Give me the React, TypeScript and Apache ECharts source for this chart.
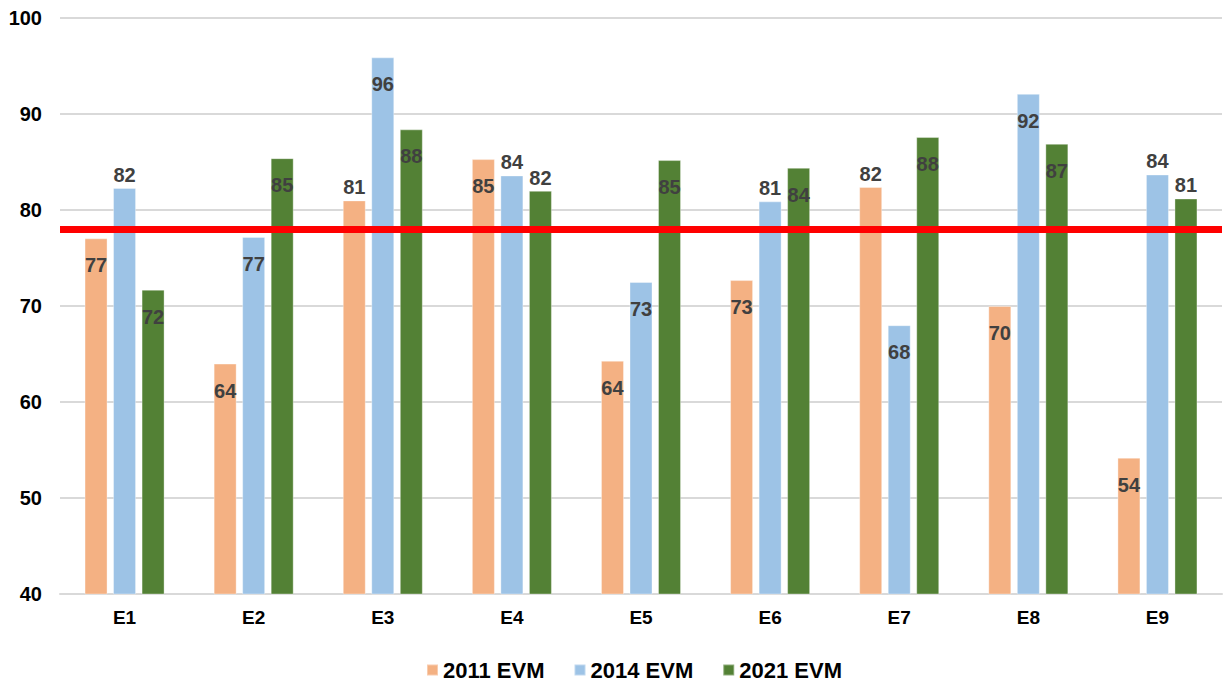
import React, { useEffect, useRef } from "react";
import * as echarts from "echarts";

const categories = ["E1", "E2", "E3", "E4", "E5", "E6", "E7", "E8", "E9"];
const seriesNames = ["2011 EVM", "2014 EVM", "2021 EVM"];
const evm2011 = [77.05, 64.0, 81.0, 85.3, 64.3, 72.7, 82.4, 70.0, 54.2];
const evm2014 = [82.3, 77.2, 95.9, 83.6, 72.5, 80.9, 68.0, 92.1, 83.7];
const evm2021 = [71.7, 85.4, 88.4, 82.0, 85.2, 84.4, 87.6, 86.9, 81.2];
// where each data label sits: "in" = inside the bar top, "top" = above the bar
const place2011 = ["in", "in", "top", "in", "in", "in", "top", "in", "in"];
const place2014 = ["top", "in", "in", "top", "in", "top", "in", "in", "top"];
const place2021 = ["in", "in", "in", "top", "in", "in", "in", "in", "top"];
const threshold = 78;
const yTicks = { min: 40, max: 100, interval: 10 };

const colors = ["#F4B183", "#9DC3E6", "#538135"];
const FONT = "'Liberation Sans', Arial, sans-serif";

function buildData(values: number[], places: string[]) {
  return values.map((v, i) => ({
    value: v,
    label:
      places[i] === "top"
        ? { position: "top", distance: 3 }
        : { position: "insideTop", distance: 17 },
  }));
}

export default function App() {
  const ref = useRef<HTMLDivElement>(null);
  useEffect(() => {
    document.body.style.margin = "0";
    if (!ref.current) return;
    const chart = echarts.init(ref.current, null, { renderer: "svg" });
    const labelBase = {
      show: true,
      color: "#404040",
      fontWeight: "bold",
      fontSize: 20,
      fontFamily: FONT,
      formatter: (p: any) => String(Math.round(p.value)),
    };
    const mk = (name: string, values: number[], places: string[], color: string, extra: any = {}) => ({
      name,
      type: "bar",
      data: buildData(values, places),
      barWidth: 23,
      barGap: "24%",
      itemStyle: { color, borderColor: "rgba(255,255,255,0.35)", borderWidth: 1 },
      label: labelBase,
      ...extra,
    });
    chart.setOption({
      animation: false,
      color: colors,
      grid: { left: 60, right: 2, top: 18, bottom: 90 },
      legend: {
        top: 654,
        left: 421,
        itemWidth: 11,
        itemHeight: 11,
        itemGap: 29,
        icon: "rect",
        textStyle: { fontSize: 22, fontWeight: "bold", color: "#000", fontFamily: FONT },
        data: seriesNames,
      },
      xAxis: {
        type: "category",
        data: categories,
        axisLine: { lineStyle: { color: "#D9D9D9", width: 2 } },
        axisTick: { show: false },
        axisLabel: { fontSize: 19, fontWeight: "bold", color: "#000", fontFamily: FONT, margin: 14 },
      },
      yAxis: {
        type: "value",
        min: yTicks.min,
        max: yTicks.max,
        interval: yTicks.interval,
        axisLine: { show: false },
        axisTick: { show: false },
        splitLine: { lineStyle: { color: "#D9D9D9", width: 2 } },
        axisLabel: { fontSize: 20, fontWeight: "bold", color: "#000", fontFamily: FONT, margin: 18 },
      },
      series: [
        mk(seriesNames[0], evm2011, place2011, colors[0]),
        mk(seriesNames[1], evm2014, place2014, colors[1]),
        mk(seriesNames[2], evm2021, place2021, colors[2], {
          markLine: {
            silent: true,
            symbol: "none",
            label: { show: false },
            lineStyle: { color: "#FF0000", width: 7, type: "solid" },
            data: [{ yAxis: threshold }],
            z: 10,
          },
        }),
      ],
    });
    return () => chart.dispose();
  }, []);
  return <div ref={ref} style={{ width: 1224, height: 684 }} />;
}
